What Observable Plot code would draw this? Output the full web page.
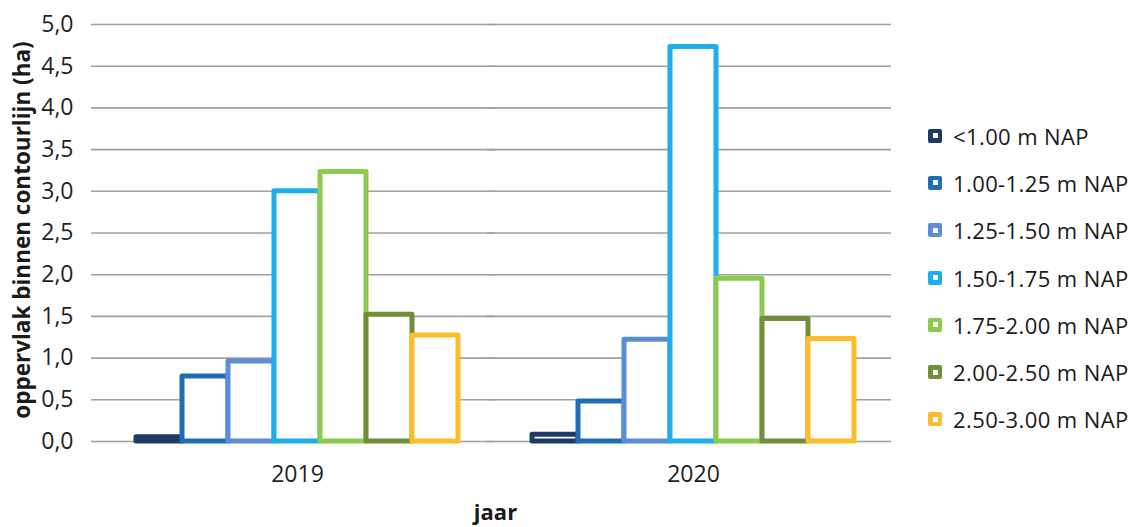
<!DOCTYPE html>
<html>
<head>
<meta charset="utf-8">
<script src="https://cdn.jsdelivr.net/npm/d3@7"></script>
<script src="https://cdn.jsdelivr.net/npm/@observablehq/plot@0.6"></script>
<style>
  body { margin: 0; background: #fff; }
  #wrap { position: relative; width: 1135px; height: 527px; font-family: "Open Sans", sans-serif; }
  #chart { position: absolute; left: 0; top: 0; }
  #legend { position: absolute; left: 928px; top: 112px; }
  .item { display: flex; align-items: center; height: 47.3px; font-size: 22px; letter-spacing: 0.4px; color: #1a1a1a; white-space: nowrap; }
  .sw { width: 14px; height: 14px; border-radius: 2px; position: relative; margin-right: 11px; flex: none; }
  .sw::after { content: ""; position: absolute; left: 4.5px; top: 4.5px; width: 5px; height: 5px; background: #fff; }
  #chart svg g[aria-label^="y-axis"], #chart svg g[aria-label^="y-axis"] text,
  #chart svg g[aria-label^="fx-axis"], #chart svg g[aria-label^="fx-axis"] text {
    font-size: 23px; fill: #1f1f1f;
  }
</style>
</head>
<body>
<div id="wrap">
  <div id="chart"></div>
  <div id="legend"></div>
</div>
<script>
// Hoogteklassen (m NAP) en hun kleuren
const classes = ["<1.00 m NAP", "1.00-1.25 m NAP", "1.25-1.50 m NAP", "1.50-1.75 m NAP",
                 "1.75-2.00 m NAP", "2.00-2.50 m NAP", "2.50-3.00 m NAP"];
const colors = ["#1f3a66", "#1f6db5", "#5b8dd6", "#1eaeea", "#8dcb50", "#6f8f3a", "#fbbd2c"];

// Jaren
const years = ["2019", "2020"];

// Oppervlak binnen contourlijn (ha) per hoogteklasse
const values2019 = [0.05, 0.78, 0.96, 3.00, 3.23, 1.52, 1.27];
const values2020 = [0.08, 0.48, 1.22, 4.73, 1.95, 1.47, 1.23];

// Waarden van de y-as
const yTicks = [0, 0.5, 1, 1.5, 2, 2.5, 3, 3.5, 4, 4.5, 5];

const yLabel = "oppervlak binnen contourlijn (ha)";
const xLabel = "jaar";

const series = [values2019, values2020];
const data = years.flatMap((year, i) =>
  classes.map((klass, j) => ({year, klass, value: series[i][j]}))
);

const fmt = d => d.toFixed(1).replace(".", ",");

// Afmetingen
const W = 910, H = 527, ML = 99, MR = 19, MT = 24, MB = 86;
const halfFacet = (W - ML - MR) / years.length / 2;
const gridColor = "#a0a0a0";

const chart = Plot.plot({
  width: W,
  height: H,
  marginLeft: ML,
  marginRight: MR,
  marginTop: MT,
  marginBottom: MB,
  style: {fontFamily: "'Open Sans', sans-serif", fontSize: "23px", color: "#1f1f1f", background: "transparent"},
  fx: {domain: years, padding: 0, axis: "bottom", tickSize: 0, tickPadding: 24, label: null},
  x: {domain: classes, axis: null, paddingInner: 0, paddingOuter: 0.765},
  y: {domain: [0, 5], ticks: 10, tickSize: 0, tickPadding: 26, tickFormat: fmt, label: null},
  color: {domain: classes, range: colors},
  marks: [
    // horizontale rasterlijnen, met korte streepjes links van de as
    Plot.ruleY(yTicks, {stroke: gridColor, strokeWidth: 1.6, insetLeft: -8}),
    // verticale y-as met streepje onder de basislijn
    Plot.ruleX([{year: years[0]}], {fx: "year", y1: () => 5, y2: () => 0, dx: -halfFacet,
      insetBottom: -8, stroke: gridColor, strokeWidth: 1.6}),
    // scheidingsstreepjes tussen de jaren en aan het eind van de as
    Plot.ruleX([{year: years[1]}], {fx: "year", y1: () => 0, y2: () => 0, dx: -halfFacet,
      insetBottom: -8, stroke: gridColor, strokeWidth: 1.6}),
    Plot.ruleX([{year: years[1]}], {fx: "year", y1: () => 0, y2: () => 0, dx: halfFacet,
      insetBottom: -8, stroke: gridColor, strokeWidth: 1.6}),
    // staven: witte vulling met gekleurde rand
    Plot.barY(data, {fx: "year", x: "klass", y: "value", fill: "white", stroke: "klass",
      strokeWidth: 5, strokeLinejoin: "round"}),
    // aslabels
    Plot.text([{year: years[0]}], {fx: "year", text: () => xLabel, frameAnchor: "bottom-right",
      textAnchor: "middle", lineAnchor: "middle", dy: 71, fontWeight: "bold", fontSize: 22, fill: "#1a1a1a"}),
    Plot.text([{year: years[0]}], {fx: "year", text: () => yLabel, frameAnchor: "left", rotate: -90,
      textAnchor: "middle", lineAnchor: "middle", dx: -77, dy: -3, fontWeight: "bold", fontSize: 22.5, fill: "#1a1a1a"})
  ]
});
document.getElementById("chart").append(chart);

// Legenda
const legend = d3.select("#legend");
classes.forEach((c, i) => {
  const item = legend.append("div").attr("class", "item");
  item.append("span").attr("class", "sw").style("background", colors[i]);
  item.append("span").text(c);
});
</script>
</body>
</html>
